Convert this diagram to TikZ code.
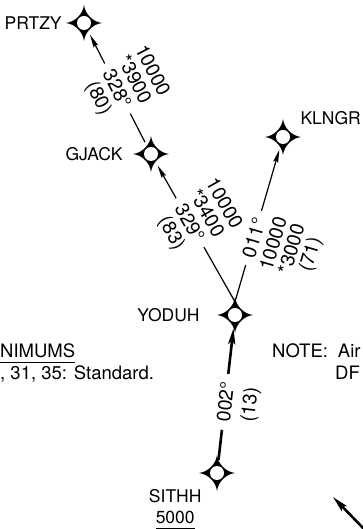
\documentclass[tikz,border=0pt]{standalone}
\usepackage{fontspec}
\setmainfont{TeX Gyre Heros}
\usetikzlibrary{positioning}
\usetikzlibrary{arrows.meta}
\tikzstyle{fix}=[circle,minimum size=26pt,inner sep=0pt]
\tikzstyle{fixname}=[inner sep=0pt]
\tikzstyle{route}=[line width=1.2pt,-{Stealth[length=13pt,width=5pt,inset=2pt]}]
\tikzstyle{leg}=[line width=2.6pt,-{Stealth[length=16pt,width=7pt,inset=3pt]}]
\tikzstyle{brg}=[sloped,fill=white,minimum width=56pt,font=\fontsize{19.5}{21}\selectfont,text height=14pt,text depth=0pt,inner sep=1pt]
\tikzstyle{alt}=[sloped,font=\fontsize{19.5}{21}\selectfont,text height=14pt,text depth=0pt,inner sep=1pt]
\tikzstyle{note}=[inner sep=0pt,anchor=base west,font=\fontsize{18.5}{21}\selectfont]
\newcommand{\fixstar}[1]{%
  \begin{scope}[shift={(#1.center)}]
    \fill (18,0) .. controls (9,1) and (1,9) .. (0,18)
      .. controls (-1,9) and (-9,1) .. (-18,0)
      .. controls (-9,-1) and (-1,-9) .. (0,-18)
      .. controls (1,-9) and (9,-1) .. (18,0) -- cycle;
    \fill[white] (0,0) circle (7pt);
  \end{scope}}

\begin{document}
\begin{tikzpicture}[x=1pt,y=1pt,font=\fontsize{17.5}{21}\selectfont]
\useasboundingbox (0,0) rectangle (362,529);

% fixes
\node[fix] (prtzy) at (84,506) {};
\node[fix] (gjack) at (151,375) {};
\node[fix] (klngr) at (283,392) {};
\node[fix] (yoduh) at (235,214) {};
\node[fix] (sithh) at (217,56) {};

\node[fixname, left=9pt of prtzy] (prtzylbl) {PRTZY};
\node[fixname, left=15pt of gjack] (gjacklbl) {GJACK};
\node[fixname, above right=3pt and 8pt of klngr] (klngrlbl) {KLNGR};
\node[fixname, left=22pt of yoduh] (yoduhlbl) {YODUH};
\node[fixname, below left=7pt and 6pt of sithh] (sithhlbl) {SITHH};
\node[fixname, below=8pt of sithhlbl] (sithhalt) {5000};
\draw[line width=1.2pt] ([yshift=-4pt]sithhalt.south west) -- ([yshift=-4pt]sithhalt.south east);

\fixstar{prtzy}
\fixstar{gjack}
\fixstar{klngr}
\fixstar{yoduh}
\fixstar{sithh}

% routes
\draw[route] (gjack) -- node[brg,pos=0.5] (brg328) {328°}
  node[alt,pos=0.5,yshift=20pt] (alt3900) {*3900}
  node[alt,pos=0.5,yshift=40pt] (mea328) {10000}
  node[alt,pos=0.5,yshift=-20pt] (dst80) {(80)} (prtzy);
\draw[route] (yoduh.north) -- node[brg,pos=0.58] (brg329) {329°}
  node[alt,pos=0.58,yshift=20pt] (alt3400) {*3400}
  node[alt,pos=0.58,yshift=40pt] (mea329) {10000}
  node[alt,pos=0.58,yshift=-20pt] (dst83) {(83)} (gjack);
\draw[route] (yoduh.north) -- node[brg,pos=0.42] (brg011) {011°}
  node[alt,pos=0.42,yshift=-20pt] (mea011) {10000}
  node[alt,pos=0.42,yshift=-39pt] (alt3000) {*3000}
  node[alt,pos=0.42,yshift=-58pt] (dst71) {(71)} (klngr);
\draw[leg] (sithh) -- node[brg,pos=0.44] (brg002) {002°}
  node[alt,pos=0.44,yshift=-24pt] (dst13) {(13)} (yoduh);

% notes
\node[note] (minlbl) at (0,171) {NIMUMS};
\draw[line width=1.2pt] ([yshift=-4pt]minlbl.south west) -- ([yshift=-4pt]minlbl.south east);
\node[note] (stdlbl) at (0,149) {, 31, 35: Standard.};
\node[note] (notelbl) at (272,171) {NOTE:\hspace{10pt}Air};
\node[note] (dflbl) at (335,149) {DF};

\coordinate (arrtail) at (364,0);
\coordinate (arrtip) at (333,32);
\draw[leg] (arrtail) -- (arrtip);

\end{tikzpicture}
\end{document}
